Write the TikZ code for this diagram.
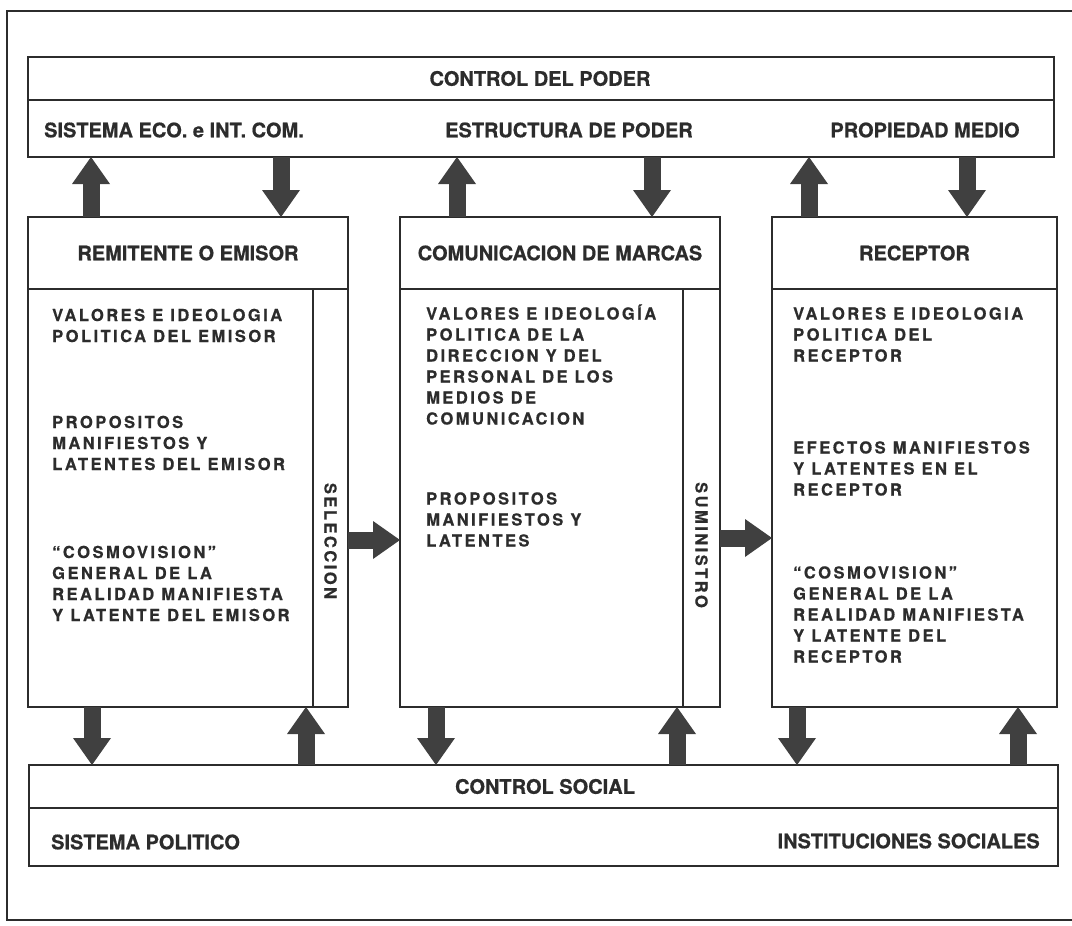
\documentclass[tikz,border=0pt]{standalone}
\usepackage{fontspec}
\newfontfamily\hdfont{TeX Gyre Heros}[FakeBold=0.6]
\newfontfamily\bdfont{TeX Gyre Heros}[LetterSpace=15,FakeBold=0.6]
\usetikzlibrary{arrows.meta}
\definecolor{ink}{HTML}{2C2C2C}
\definecolor{arr}{HTML}{404040}
\newcommand\Lns[1]{\vtop{\baselineskip=21pt\lineskiplimit=-100pt\halign{##\hfil\cr#1\crcr}}}
\begin{document}
\begin{tikzpicture}[x=1pt,y=-1pt,
  rule/.style={draw=ink,line width=2.4pt},
  box/.style={rule,rectangle,inner sep=0pt,outer sep=0pt,anchor=north west},
  hd/.style={inner sep=0pt,text=ink,font=\hdfont\bfseries\fontsize{20}{24}\selectfont},
  bd/.style={inner sep=0pt,text=ink,anchor=base west,font=\bdfont\bfseries\fontsize{16.5}{21}\selectfont},
  fat/.style={draw=arr,line width=17pt,-{Triangle[width=38pt,length=27pt,line width=0pt]}},
]
\useasboundingbox (0,0) rectangle (1072,926);
\fill[white] (0,0) rectangle (1072,926);
% outer frame (open to the right)
\draw[rule,line width=2pt] (1080,10.5) -- (7,10.5) -- (7,920) -- (1080,920);

% boxes
\node[box,minimum width=1026pt,minimum height=100pt] (top) at (28,57) {};
\node[box,minimum width=320pt,minimum height=490pt] (rem) at (28,217) {};
\node[box,minimum width=320pt,minimum height=490pt] (mid) at (400,217) {};
\node[box,minimum width=285pt,minimum height=490pt] (rec) at (772,217) {};
\node[box,minimum width=1029pt,minimum height=101pt] (bot) at (29,765) {};

% dividers
\draw[rule] (top.west |- 0,100) -- (top.east |- 0,100);
\draw[rule] (bot.west |- 0,808) -- (bot.east |- 0,808);
\draw[rule] (rem.west |- 0,289) -- (rem.east |- 0,289);
\draw[rule] (mid.west |- 0,289) -- (mid.east |- 0,289);
\draw[rule] (rec.west |- 0,289) -- (rec.east |- 0,289);
\draw[rule] (313,289) -- (rem.south -| 313,0);
\draw[rule] (683,289) -- (mid.south -| 683,0);

% top / bottom band texts
\node[hd] (t1) at (540,78.5) {CONTROL DEL PODER};
\node[hd,anchor=west] (t2) at (44,130) {SISTEMA ECO. e INT. COM.};
\node[hd] (t3) at (569,130) {ESTRUCTURA DE PODER};
\node[hd] (t4) at (925,130) {PROPIEDAD MEDIO};
\node[hd] (b1) at (545,786.5) {CONTROL SOCIAL};
\node[hd,anchor=west] (b2) at (51,842) {SISTEMA POLITICO};
\node[hd,anchor=east] (b3) at (1040,841) {INSTITUCIONES SOCIALES};

% column headers
\node[hd] (h1) at (rem.north |- 0,253) {REMITENTE O EMISOR};
\node[hd] (h2) at (mid.north |- 0,253) {COMUNICACION DE MARCAS};
\node[hd] (h3) at (rec.north |- 0,253) {RECEPTOR};

% left column
\node[bd] (l1) at (52,321) {\Lns{VALORES E IDEOLOGIA\cr POLITICA DEL EMISOR}};
\node[bd] (l2) at (52,428) {\Lns{PROPOSITOS\cr MANIFIESTOS Y\cr LATENTES DEL EMISOR}};
\node[bd] (l3) at (52,558) {\Lns{“COSMOVISION”\cr GENERAL DE LA\cr REALIDAD MANIFIESTA\cr Y LATENTE DEL EMISOR}};
\node[bd,anchor=center,rotate=-90] (sel) at (330.5,541) {SELECCION};

% middle column
\node[bd] (m1) at (426,319.5) {\Lns{VALORES E IDEOLOGÍA\cr POLITICA DE LA\cr DIRECCION Y DEL\cr PERSONAL DE LOS\cr MEDIOS DE\cr COMUNICACION}};
\node[bd] (m2) at (426,504.5) {\Lns{PROPOSITOS\cr MANIFIESTOS Y\cr LATENTES}};
\node[bd,anchor=center,rotate=-90] (sum) at (701.5,545) {SUMINISTRO};

% right column
\node[bd] (r1) at (793,319.5) {\Lns{VALORES E IDEOLOGIA\cr POLITICA DEL\cr RECEPTOR}};
\node[bd] (r2) at (793,453.5) {\Lns{EFECTOS MANIFIESTOS\cr Y LATENTES EN EL\cr RECEPTOR}};
\node[bd] (r3) at (793,578.5) {\Lns{“COSMOVISION”\cr GENERAL DE LA\cr REALIDAD MANIFIESTA\cr Y LATENTE DEL\cr RECEPTOR}};

% arrows top band
\draw[fat] (rem.north -| 91,0) -- (top.south -| 91,0);
\draw[fat] (top.south -| 281,0) -- (rem.north -| 281,0);
\draw[fat] (mid.north -| 457,0) -- (top.south -| 457,0);
\draw[fat] (top.south -| 652,0) -- (mid.north -| 652,0);
\draw[fat] (rec.north -| 809,0) -- (top.south -| 809,0);
\draw[fat] (top.south -| 967,0) -- (rec.north -| 967,0);
% arrows bottom band
\draw[fat] (rem.south -| 92,0) -- (bot.north -| 92,0);
\draw[fat] (bot.north -| 306,0) -- (rem.south -| 306,0);
\draw[fat] (mid.south -| 436,0) -- (bot.north -| 436,0);
\draw[fat] (bot.north -| 677,0) -- (mid.south -| 677,0);
\draw[fat] (rec.south -| 797,0) -- (bot.north -| 797,0);
\draw[fat] (bot.north -| 1018,0) -- (rec.south -| 1018,0);
% horizontal arrows
\draw[fat] (rem.east |- 0,540) -- (mid.west |- 0,540);
\draw[fat] (mid.east |- 0,538) -- (rec.west |- 0,538);
\end{tikzpicture}
\end{document}
